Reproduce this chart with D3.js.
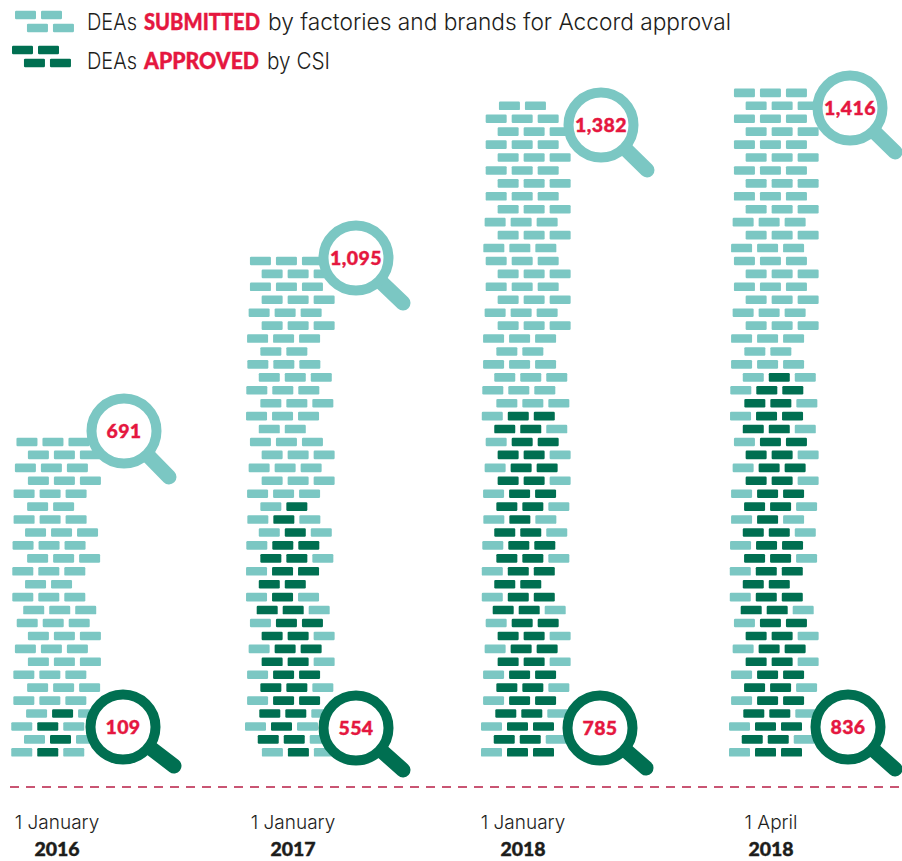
<!DOCTYPE html>
<html>
<head>
<meta charset="utf-8">
<script src="https://cdn.jsdelivr.net/npm/d3@7"></script>
<style>
    html, body { margin: 0; padding: 0; background: #fff; }
    text { font-family: Inter, sans-serif; }
    text.heavy { font-family: Lato, sans-serif; font-weight: 900; stroke-width: 0.4; }
</style>
</head>
<body>
<svg id="chart" width="902" height="861"></svg>
<script>
// chart values
const dates = ["1 January", "1 January", "1 January", "1 April"];
const years = ["2016", "2017", "2018", "2018"];
const submitted = ["691", "1,095", "1,382", "1,416"];
const approved = ["109", "554", "785", "836"];

// wall courses, top to bottom. s = submitted brick, a = approved brick
const courses2016 = ["sss","sss","sss","sss","sss","ss","sss","sss","sss","sss","sss","ss","sss","sss","sss","sss","sss","sss","sss","sss","sss","sas","sas","sas","sas"];
const courses2017 = ["sss","sss","sss","sss","sss","sss","sss","ss","sss","sss","sss","sss","sss","ss","sss","sss","sss","sss","sss","sa","sas","sas","saa","aas","saa","aa","sas","aas","saa","aas","saa","aas","saa","aas","saa","aas","sas","aas","sas"];
const courses2018 = ["ss","sss","sss","sss","sss","sss","sss","sss","sss","sss","sss","sss","sss","sss","sss","sss","sss","sss","sss","ss","sss","sss","sss","sss","saa","aas","saa","aas","saa","aas","saa","aas","sas","aas","saa","aas","saa","aa","saa","aas","saa","aas","saa","aas","saa","aas","saa","aas","saa","aas","saa"];
const coursesApr2018 = ["sss","sss","sss","sss","sss","sss","sss","sss","sss","sss","sss","sss","sss","sss","sss","sss","sss","sss","sss","sss","ss","sss","sas","saa","aas","saa","aas","saa","aas","saa","aas","saa","aas","sas","aas","saa","aas","saa","aa","saa","aas","saa","aas","saa","aas","saa","aas","saa","aas","saa","aas","saa"];

// how far each course is pushed sideways, in percent of a brick
const shift2016 = [21,65,15,65,10,62,10,54,6,62,5,54,5,47,22,65,15,65,9,62,9,58,1,50,1];
const shift2017 = [19,64,19,64,14,64,8,59,9,53,5,59,4,53,19,64,14,64,8,59,9,53,5,59,4,53,4,45,19,64,14,64,8,59,8,55,0,49,65];
const shift2018 = [69,18,64,18,64,18,64,18,64,14,64,9,18,64,18,64,14,64,8,59,8,51,5,59,3,51,18,64,14,64,8,59,9,51,5,59,3,51,3,45,18,64,14,64,8,59,8,55,0,49,0];
const shiftApr2018 = [19,64,19,64,19,64,19,64,19,64,14,64,8,19,64,19,64,14,64,8,59,8,53,5,59,4,53,19,64,14,64,8,58,8,53,4,58,3,53,3,45,19,64,14,64,8,58,8,55,0,49,0];

const walls = [
    {courses: courses2016, shift: shift2016},
    {courses: courses2017, shift: shift2017},
    {courses: courses2018, shift: shift2018},
    {courses: coursesApr2018, shift: shiftApr2018}
];

// legend
const legendRows = [
    {before: "DEAs", strong: "SUBMITTED", after: "by factories and brands for Accord approval"},
    {before: "DEAs", strong: "APPROVED", after: "by CSI"}
];
const legendCourses = [["ss", "ss"], ["aa", "aa"]];
const legendShift = [0, 46];

/**********************
***** BASIC SETUP *****
**********************/

const THEME_TEAL = "#7BC7C3";
const THEME_GREEN = "#006F51";
const THEME_RED = "#E5173F";
const TEXT_COLOR = "#1D1D1B";

const BRICK_W = 21;
const BRICK_H = 8.6;
const BRICK_PITCH = 26;
const COURSE_H = 12.93;
const WALL_BOTTOM = 752.3;

const svg = d3.select("#chart");

/*****************
***** SCALES *****
*****************/

// the walls are not evenly spaced in the original
const wallX = d3.scaleOrdinal()
    .domain(d3.range(4))
    .range([11, 245, 481, 729]);

const labelX = d3.scaleOrdinal()
    .domain(d3.range(4))
    .range([57, 293, 523, 771]);

// course number counted up from the ground
const courseY = d3.scaleLinear()
    .domain([0, 51])
    .range([WALL_BOTTOM, WALL_BOTTOM - 51 * COURSE_H]);

const shiftX = d3.scaleLinear()
    .domain([0, 100])
    .range([0, BRICK_PITCH]);

const brickColor = d3.scaleOrdinal()
    .domain(["s", "a"])
    .range([THEME_TEAL, THEME_GREEN]);

/****************
***** WALLS *****
****************/

function drawBricks(parent, rows) {
    // rows: [{y, x, pattern}]
    const row = parent.selectAll(".course")
        .data(rows)
        .enter()
        .append("g")
        .attr("class", "course")
        .attr("transform", d => `translate(${d.x}, ${d.y})`);

    row.selectAll("rect")
        .data(d => d.pattern.split(""))
        .enter()
        .append("rect")
        .attr("x", (d, i) => i * BRICK_PITCH)
        .attr("y", -BRICK_H / 2)
        .attr("width", BRICK_W)
        .attr("height", BRICK_H)
        .attr("rx", 1.2)
        .attr("fill", d => brickColor(d));
}

walls.forEach(function(wall, w) {
    const n = wall.courses.length;
    const rows = wall.courses.map((pattern, i) => ({
        pattern: pattern,
        x: wallX(w) + shiftX(wall.shift[i]),
        y: courseY(n - 1 - i)
    }));
    drawBricks(svg.append("g").attr("class", "wall"), rows);
});

/*******************
***** BASELINE *****
*******************/

svg.append("line")
    .attr("x1", 10)
    .attr("x2", 902)
    .attr("y1", 787)
    .attr("y2", 787)
    .attr("stroke", "#B81E45")
    .attr("stroke-width", 1.4)
    .attr("stroke-dasharray", "9 7");

/*********************
***** MAGNIFIERS *****
*********************/

// centre and handle end of each magnifier
const topLens = [
    {cx: 124, cy: 431, hx: 169, hy: 477},
    {cx: 356, cy: 258, hx: 403, hy: 303},
    {cx: 601, cy: 125, hx: 647, hy: 170},
    {cx: 850, cy: 108, hx: 895, hy: 152}
];
const bottomLens = [
    {cx: 123, cy: 727, hx: 174, hy: 766},
    {cx: 356, cy: 728, hx: 403, hy: 770},
    {cx: 600, cy: 728, hx: 646, hy: 768},
    {cx: 848, cy: 727, hx: 895, hy: 769}
];

function drawLens(lens, label, color) {
    const g = svg.append("g").attr("class", "lens");

    g.append("line")
        .attr("x1", lens.cx)
        .attr("y1", lens.cy)
        .attr("x2", lens.hx)
        .attr("y2", lens.hy)
        .attr("stroke", color)
        .attr("stroke-width", 15)
        .attr("stroke-linecap", "round");

    g.append("circle")
        .attr("cx", lens.cx)
        .attr("cy", lens.cy)
        .attr("r", 32.5)
        .attr("fill", "#fff")
        .attr("stroke", color)
        .attr("stroke-width", 10);

    g.append("text")
        .attr("class", "heavy")
        .attr("x", lens.cx)
        .attr("y", lens.cy + 7)
        .attr("text-anchor", "middle")
        .attr("font-size", 19.5)
        .attr("letter-spacing", 0.4)
        .attr("stroke", THEME_RED)
        .attr("fill", THEME_RED)
        .text(label);
}

submitted.forEach((label, i) => drawLens(topLens[i], label, THEME_TEAL));
approved.forEach((label, i) => drawLens(bottomLens[i], label, THEME_GREEN));

/******************
***** X LABELS ****
******************/

svg.selectAll(".dateLabel")
    .data(dates)
    .enter()
    .append("text")
    .attr("class", "dateLabel")
    .attr("x", (d, i) => labelX(i))
    .attr("y", 829)
    .attr("text-anchor", "middle")
    .attr("font-size", 19)
    .attr("font-weight", 300)
    .attr("fill", TEXT_COLOR)
    .text(d => d);

svg.selectAll(".yearLabel")
    .data(years)
    .enter()
    .append("text")
    .attr("class", "yearLabel heavy")
    .attr("x", (d, i) => labelX(i))
    .attr("y", 856)
    .attr("text-anchor", "middle")
    .attr("font-size", 19.5)
    .attr("stroke", TEXT_COLOR)
    .attr("fill", TEXT_COLOR)
    .text(d => d);

/*****************
***** LEGEND *****
*****************/

const legendX = [15, 12];
const legendY = [15, 50];

// where the words of each legend line start and how wide they run
const legendSpans = [
    [{x: 87, w: 50}, {x: 144, w: 116}, {x: 268, w: 463}],
    [{x: 87, w: 50}, {x: 144, w: 115}, {x: 267, w: 63}]
];

legendRows.forEach(function(d, i) {
    const rows = legendCourses[i].map((pattern, j) => ({
        pattern: pattern,
        x: legendX[i] + shiftX(legendShift[j]),
        y: legendY[i] + j * COURSE_H
    }));
    drawBricks(svg.append("g").attr("class", "legendBricks"), rows);

    [d.before, d.strong, d.after].forEach(function(words, k) {
        const strong = k === 1;
        svg.append("text")
            .attr("class", strong ? "heavy" : null)
            .attr("x", legendSpans[i][k].x)
            .attr("y", 30 + i * 39)
            .attr("textLength", legendSpans[i][k].w)
            .attr("lengthAdjust", "spacingAndGlyphs")
            .attr("font-size", 23)
            .attr("font-weight", strong ? null : 300)
            .attr("stroke", strong ? THEME_RED : null)
            .attr("fill", strong ? THEME_RED : TEXT_COLOR)
            .text(words);
    });
});
</script>
</body>
</html>
